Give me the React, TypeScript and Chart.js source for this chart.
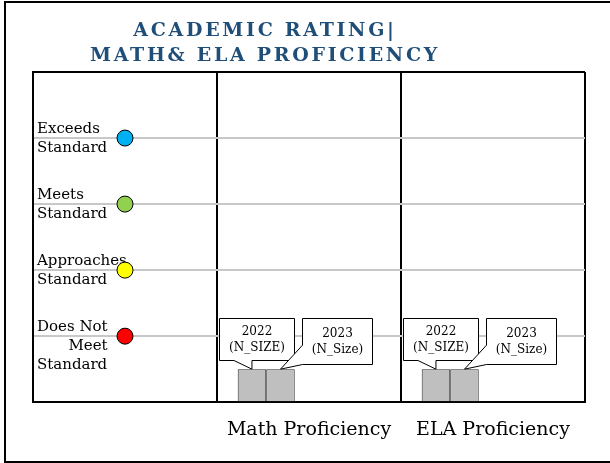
import React, { useEffect, useRef } from 'react';
import { Chart, registerables } from 'chart.js';

Chart.register(...registerables);

// ---- data ----
const TITLE_LINES = ['ACADEMIC RATING|', 'MATH& ELA PROFICIENCY'];
const CATEGORIES = ['', 'Math Proficiency', 'ELA Proficiency'];
const YEARS = ['2022', '2023'];
const VALUES_2022 = [null, 0.5, 0.5];
const VALUES_2023 = [null, 0.5, 0.5];
const CALLOUT_2022 = ['2022', '(N_SIZE)'];
const CALLOUT_2023 = ['2023', '(N_Size)'];
const LEVEL_VALUES = [4, 3, 2, 1];
const LEVEL_LABELS = [
  ['Exceeds', 'Standard'],
  ['Meets', 'Standard'],
  ['Approaches', 'Standard'],
  ['Does Not', 'Meet', 'Standard'],
];
const LEVEL_COLORS = ['#00B0F0', '#92D050', '#FFFF00', '#FF0000'];
const Y_MIN = 0;
const Y_MAX = 5;
const EMPTY_YEAR_SLOTS = 3; // unused year slots reserved in each group

const SERIF = '"DejaVu Serif", serif';

const levelLabelPlugin = {
  id: 'levelLabels',
  beforeDatasetsDraw(chart: any) {
    const { ctx, chartArea } = chart;
    const yScale = chart.scales.y;
    ctx.save();
    ctx.font = `15px ${SERIF}`;
    ctx.fillStyle = '#000';
    ctx.textBaseline = 'middle';
    LEVEL_VALUES.forEach((v, i) => {
      const lines = LEVEL_LABELS[i];
      const y0 = yScale.getPixelForValue(v) - 9;
      const x0 = chartArea.left + 4;
      const firstW = ctx.measureText(lines[0]).width;
      lines.forEach((t, j) => {
        if (lines.length === 3 && j === 1) {
          ctx.textAlign = 'right';
          ctx.fillText(t, x0 + firstW, y0 + j * 19);
        } else {
          ctx.textAlign = 'left';
          ctx.fillText(t, x0, y0 + j * 19);
        }
      });
    });
    ctx.restore();
  },
};

const calloutPlugin = {
  id: 'callouts',
  afterDatasetsDraw(chart: any) {
    const ctx = chart.ctx;
    [0, 1].forEach((di) => {
      const meta = chart.getDatasetMeta(di);
      const lines = di === 0 ? CALLOUT_2022 : CALLOUT_2023;
      meta.data.forEach((bar: any, i: number) => {
        const v = chart.data.datasets[di].data[i];
        if (v == null) return;
        const { x, y, width } = bar.getProps(['x', 'y', 'width'], true);
        const right = x + width / 2;
        let bx: number, by: number, bw: number, bh: number;
        ctx.save();
        ctx.fillStyle = '#fff';
        ctx.strokeStyle = '#000';
        ctx.lineWidth = 1;
        ctx.beginPath();
        if (di === 0) {
          bw = 75;
          bh = 42;
          bx = Math.round(x + 5 - bw / 2) + 0.5;
          by = Math.round(y - 51) + 0.5;
          ctx.moveTo(bx, by);
          ctx.lineTo(bx + bw, by);
          ctx.lineTo(bx + bw, by + bh);
          ctx.lineTo(x, by + bh);
          ctx.lineTo(x, y);
          ctx.lineTo(x - 18, by + bh);
          ctx.lineTo(bx, by + bh);
          ctx.closePath();
        } else {
          bw = 70;
          bh = 46;
          bx = Math.round(right + 7) + 0.5;
          by = Math.round(y - 51) + 0.5;
          ctx.moveTo(bx, by);
          ctx.lineTo(bx + bw, by);
          ctx.lineTo(bx + bw, by + bh);
          ctx.lineTo(bx, by + bh);
          ctx.lineTo(x, y);
          ctx.lineTo(bx, by + bh * 0.58);
          ctx.closePath();
        }
        ctx.fill();
        ctx.stroke();
        ctx.fillStyle = '#000';
        ctx.font = `12px ${SERIF}`;
        ctx.textAlign = 'center';
        ctx.textBaseline = 'middle';
        const cx = bx + bw / 2;
        const cy = by + bh / 2;
        ctx.fillText(lines[0], cx, cy - 8);
        ctx.fillText(lines[1], cx, cy + 8);
        ctx.restore();
      });
    });
  },
};

export default function App() {
  const canvasRef = useRef<HTMLCanvasElement | null>(null);

  useEffect(() => {
    const canvas = canvasRef.current;
    if (!canvas) return;
    const barStyle = {
      backgroundColor: '#BFBFBF',
      borderColor: '#2A2A2A',
      borderWidth: 1,
      categoryPercentage: 0.775,
      barPercentage: 1.0,
    };
    const datasets: any[] = [
      { type: 'bar', label: YEARS[0], data: VALUES_2022, ...barStyle, order: 2 },
      { type: 'bar', label: YEARS[1], data: VALUES_2023, ...barStyle, order: 2 },
    ];
    for (let k = 0; k < EMPTY_YEAR_SLOTS; k++) {
      datasets.push({ type: 'bar', label: '', data: [], ...barStyle, order: 2 });
    }
    datasets.push({
      type: 'line',
      label: 'Levels',
      data: LEVEL_VALUES.map((v) => ({ x: CATEGORIES[0], y: v })),
      showLine: false,
      pointRadius: 8,
      pointHoverRadius: 8,
      pointBackgroundColor: LEVEL_COLORS,
      pointBorderColor: '#000',
      pointBorderWidth: 1,
      order: 1,
    });

    const chart = new Chart(canvas, {
      type: 'bar',
      data: { labels: CATEGORIES, datasets },
      options: {
        responsive: false,
        animation: false,
        events: [],
        layout: { padding: { left: 33, top: 72, right: 25, bottom: 6 } },
        plugins: {
          legend: { display: false },
          title: { display: false },
          tooltip: { enabled: false },
        },
        scales: {
          x: {
            type: 'category',
            offset: true,
            grid: {
              offset: true,
              color: '#000',
              lineWidth: 2,
              drawTicks: false,
            },
            border: { display: true, color: '#000', width: 2 },
            ticks: {
              padding: 16,
              color: '#000',
              font: { family: SERIF, size: 19 },
              maxRotation: 0,
              autoSkip: false,
            },
          },
          y: {
            min: Y_MIN,
            max: Y_MAX,
            ticks: { display: false, stepSize: 1 },
            grid: {
              drawTicks: false,
              color: (c: any) =>
                c.tick.value === Y_MAX ? '#000' : c.tick.value === Y_MIN ? 'rgba(0,0,0,0)' : '#C8C8C8',
              lineWidth: 2,
            },
            border: { display: true, color: '#000', width: 2 },
          },
        },
      },
      plugins: [levelLabelPlugin, calloutPlugin],
    } as any);
    return () => chart.destroy();
  }, []);

  return (
    <div style={{ position: 'absolute', left: 0, top: 0, width: 610, height: 463, overflow: 'hidden', background: '#fff' }}>
      <div
        style={{
          position: 'absolute',
          left: 4,
          top: 1,
          width: 700,
          height: 462,
          boxSizing: 'border-box',
          border: '2px solid #000',
        }}
      />
      <canvas ref={canvasRef} width={610} height={463} style={{ position: 'absolute', left: 0, top: 0 }} />
      <div
        style={{
          position: 'absolute',
          left: 0,
          top: 17,
          width: 530,
          textAlign: 'center',
          fontFamily: SERIF,
          fontWeight: 'bold',
          fontSize: 19,
          lineHeight: '25px',
          letterSpacing: 2.7,
          color: '#1F4E79',
        }}
      >
        {TITLE_LINES.map((t) => (
          <div key={t}>{t}</div>
        ))}
      </div>
    </div>
  );
}
